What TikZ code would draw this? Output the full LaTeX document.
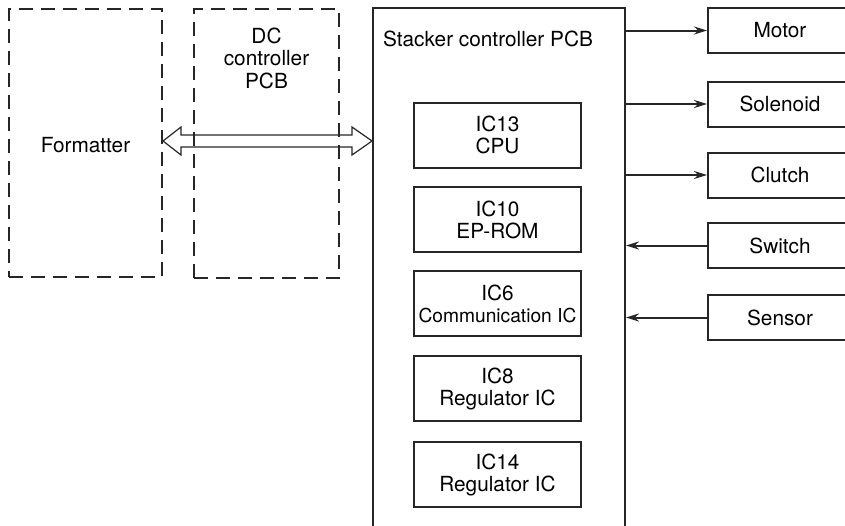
\documentclass[tikz,border=0pt]{standalone}
\usepackage{fontspec}
\setmainfont{TeX Gyre Heros}
\usetikzlibrary{arrows.meta,calc}
\begin{document}
\begin{tikzpicture}[x=1pt,y=-1pt,
  font=\fontsize{20.8}{22}\selectfont,
  dbox/.style={draw=black!85, line width=2pt, dash pattern=on 14pt off 8pt, inner sep=0pt},
  sbox/.style={draw=black!85, line width=2pt, inner sep=0pt},
  icbox/.style={sbox, minimum width=167pt, minimum height=65pt, align=center},
  iobox/.style={sbox, minimum width=144pt, minimum height=45pt},
  arr/.style={draw=black!85, line width=2pt, -{Stealth[length=13pt,width=8pt]}},
  txt/.style={inner sep=0pt, align=center}]
\useasboundingbox (0,0) rectangle (845,525);
\clip (0,0) rectangle (845,525);
% dashed boxes
\node[dbox, minimum width=153pt, minimum height=268pt] (fmt) at (85.5,143) {};
\node[txt] (fmtt) at (85.5,145) {Formatter};
\node[dbox, minimum width=145pt, minimum height=269pt] (dc) at (266.5,143.5) {};
\node[txt, font=\fontsize{20.8}{22.5}\selectfont] (dct) at (266.5,58) {DC\\controller\\PCB};
% stacker
\node[sbox, minimum width=252pt, minimum height=540pt] (stk) at (499,278) {};
\node[txt] (stkt) at (488,39) {Stacker controller PCB};
% ICs
\node[icbox] (ic13) at (497.5,135) {IC13\\CPU};
\node[icbox] (ic10) at (497.5,219.5) {IC10\\EP-ROM};
\node[icbox] (ic6) at (497.5,303.5) {IC6\\\fontsize{19.2}{22}\selectfont Communication IC};
\node[icbox] (ic8) at (497.5,388.5) {IC8\\Regulator IC};
\node[icbox] (ic14) at (497.5,474.5) {IC14\\Regulator IC};
% IO boxes
\node[iobox] (motor) at (780,30.5) {Motor};
\node[iobox] (sol) at (780,104) {Solenoid};
\node[iobox] (clu) at (780,175) {Clutch};
\node[iobox] (sw) at (780,245.5) {Switch};
\node[iobox] (sen) at (780,317.5) {Sensor};
% arrows
\draw[arr] (motor.west -| stk.east) -- (motor.west);
\draw[arr] (sol.west -| stk.east) -- (sol.west);
\draw[arr] (clu.west -| stk.east) -- (clu.west);
\draw[arr] (sw.west) -- (sw.west -| stk.east);
\draw[arr] (sen.west) -- (sen.west -| stk.east);
% hollow double arrow
\coordinate (dl) at ($(fmt.east)+(0,-2)$);
\coordinate (dr) at ($(stk.west |- dl)$);
\draw[draw=black!85, line width=1.2pt, line join=miter]
  (dl) -- ++(18,-14) -- ++(0,8) -- ($(dr)+(-20,-6)$) -- ++(0,-8) -- (dr)
  -- ++(-20,14) -- ++(0,-8) -- ($(dl)+(18,6)$) -- ++(0,8) -- cycle;
\end{tikzpicture}
\end{document}
